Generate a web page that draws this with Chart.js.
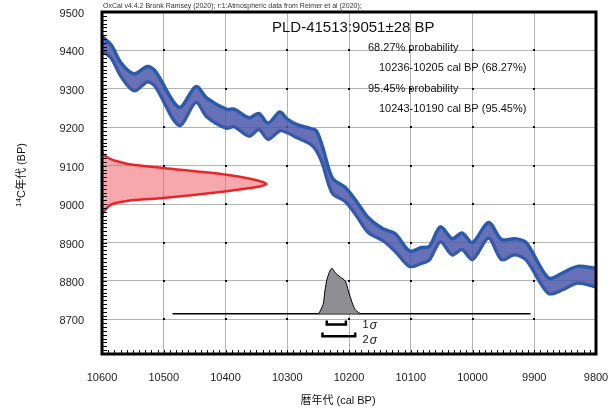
<!DOCTYPE html>
<html><head><meta charset="utf-8">
<script src="https://cdn.jsdelivr.net/npm/chart.js@4.4.0/dist/chart.umd.min.js"></script>
<style>html,body{margin:0;padding:0;background:#fff;overflow:hidden}</style>
</head><body>
<canvas id="c" width="609" height="414" style="width:609px;height:414px;display:block"></canvas>
<script>
// Calibration curve (IntCal20 band): cal BP and upper / lower 14C ages
const calBP    = [10600,10585,10569,10548,10527,10514,10475,10448,10430,10399,10386,10362,10346,10331,10312,10300,10284,10263,10253,10243,10227,10206,10187,10169,10145,10125,10102,10083,10070,10052,10033,10017,10000,9974,9953,9932,9913,9877,9853,9830,9800];
const c14Upper = [9436,9414,9367,9339,9358,9347,9252,9306,9276,9247,9247,9225,9236,9211,9240,9221,9207,9197,9191,9150,9068,9043,9005,8965,8936,8923,8878,8887,8890,8941,8910,8925,8900,8952,8908,8910,8900,8808,8822,8838,8833];
const c14Lower = [9400,9380,9332,9295,9318,9307,9205,9265,9227,9198,9202,9177,9194,9169,9191,9186,9173,9157,9140,9106,9029,9007,8968,8927,8905,8877,8838,8846,8855,8902,8868,8882,8856,8912,8856,8868,8855,8768,8778,8795,8785];

// Measured 14C age probability (drawn along the y axis)
const probCal = [10600,10597,10586,10574,10553,10501,10401,10360,10334,10347,10401,10501,10552,10585,10597,10600];
const probC14 = [9138,9128,9117,9111,9103,9094,9077,9066,9053,9045,9033,9016,9010,8999,8981,8970];

// Calibrated probability distribution
const postCal = [10249,10242,10239,10235,10228,10222,10214,10206,10201,10195,10190,10182];
const postC14 = [8715,8739,8774,8808,8833,8821,8810,8800,8774,8744,8726,8715];
const postBaseline = 8715;
const rangeLine = [10486, 9906];

// Sigma ranges
const sigma1 = [10236, 10205];
const sigma2 = [10243, 10190];
const sigma1Level = 8687, sigma2Level = 8656, bracketTick = 10;

// Axis ticks
const xTicks = [10600,10500,10400,10300,10200,10100,10000,9900,9800];
const yTicks = [8700,8800,8900,9000,9100,9200,9300,9400,9500];

const FONT = "'Liberation Sans', Arial, 'Noto Sans CJK JP', sans-serif";
Chart.defaults.font.family = FONT;

const pts = (xs, ys) => xs.map((v, i) => ({x: v, y: ys[i]}));
const bracket = (r, lvl) => [{x:r[0],y:lvl+bracketTick},{x:r[0],y:lvl},{x:r[1],y:lvl},{x:r[1],y:lvl+bracketTick}];

const deco = {
  id: 'deco',
  beforeDatasetsDraw(chart) {
    const {ctx, scales:{x, y}} = chart;
    ctx.save();
    ctx.fillStyle = '#000';
    xTicks.forEach(xv => yTicks.forEach(yv => {
      const px = Math.round(x.getPixelForValue(xv)), py = Math.round(y.getPixelForValue(yv));
      ctx.fillRect(px - 1, py - 1, 2, 2);
    }));
    ctx.restore();
  },
  afterDraw(chart) {
    const {ctx, chartArea: a, scales:{x, y}} = chart;
    ctx.save();
    // minor ticks
    ctx.strokeStyle = '#000'; ctx.lineWidth = 1;
    ctx.beginPath();
    for (let v = 9800; v <= 10600; v += 10) {
      const px = Math.round(x.getPixelForValue(v)) + 0.5;
      ctx.moveTo(px, a.bottom); ctx.lineTo(px, a.bottom - 4);
    }
    for (let v = 8620; v <= 9500; v += 10) {
      const py = Math.round(y.getPixelForValue(v)) + 0.5;
      ctx.moveTo(a.left, py); ctx.lineTo(a.left + 5, py);
    }
    ctx.stroke();
    // frame
    ctx.lineWidth = 3;
    ctx.strokeRect(a.left, a.top, a.right - a.left, a.bottom - a.top);

    ctx.fillStyle = '#111';
    ctx.textBaseline = 'middle';
    ctx.textAlign = 'left';
    // header
    ctx.font = '7px ' + FONT;
    ctx.fillStyle = '#333';
    ctx.fillText('OxCal v4.4.2 Bronk Ramsey (2020); r:1:Atmospheric data from Reimer et al (2020);', 103, 6);
    ctx.fillStyle = '#111';
    ctx.font = '15px ' + FONT;
    ctx.fillText('PLD-41513:9051\u00B128 BP', 272, 28);
    ctx.font = '11px ' + FONT;
    ctx.fillText('68.27% probability', 368, 48);
    ctx.fillText('10236-10205 cal BP (68.27%)', 379, 68);
    ctx.fillText('95.45% probability', 368, 89);
    ctx.fillText('10243-10190 cal BP (95.45%)', 379, 109);

    // sigma labels
    const sx = x.getPixelForValue(10178);
    const s1y = y.getPixelForValue(sigma1Level) + 1, s2y = y.getPixelForValue(sigma2Level) + 4;
    ctx.font = '11px ' + FONT;
    ctx.fillText('1', sx, s1y); let w = ctx.measureText('1 ').width;
    ctx.font = 'italic 12px ' + FONT; ctx.fillText('\u03C3', sx + w - 2, s1y);
    ctx.font = '11px ' + FONT;
    ctx.fillText('2', sx, s2y);
    ctx.font = 'italic 12px ' + FONT; ctx.fillText('\u03C3', sx + w - 2, s2y);

    // x axis title
    ctx.font = '11px ' + FONT;
    ctx.textAlign = 'center';
    ctx.fillText('暦年代 (cal BP)', 338, 401);

    // y axis title rotated
    ctx.translate(22, 175);
    ctx.rotate(-Math.PI / 2);
    ctx.textAlign = 'left';
    ctx.font = '8px ' + FONT;
    const supW = ctx.measureText('14').width;
    ctx.font = '11px ' + FONT;
    const mainW = ctx.measureText('C年代 (BP)').width;
    const start = -(supW + mainW) / 2;
    ctx.font = '8px ' + FONT;
    ctx.fillText('14', start, -3);
    ctx.font = '11px ' + FONT;
    ctx.fillText('C年代 (BP)', start + supW, 0);
    ctx.restore();
  }
};

new Chart(document.getElementById('c'), {
  type: 'line',
  data: {
    datasets: [
      { label: 'prob', data: pts(probCal, probC14), borderColor: '#e8262a', borderWidth: 2.5,
        backgroundColor: 'rgba(239,81,89,0.5)', fill: 'shape', tension: 0.3, pointRadius: 0 },
      { label: 'upper', data: pts(calBP, c14Upper), borderColor: '#2a5aaa', borderWidth: 3.5,
        backgroundColor: 'rgba(76,88,170,0.85)', fill: '+1', tension: 0.3, pointRadius: 0 },
      { label: 'lower', data: pts(calBP, c14Lower), borderColor: '#2a5aaa', borderWidth: 3.5,
        fill: false, tension: 0.3, pointRadius: 0 },
      { label: 's1', data: bracket(sigma1, sigma1Level), borderColor: '#000', borderWidth: 2.5, fill: false, pointRadius: 0, tension: 0 },
      { label: 's2', data: bracket(sigma2, sigma2Level), borderColor: '#000', borderWidth: 2.5, fill: false, pointRadius: 0, tension: 0 },
      { label: 'post', data: pts(postCal, postC14), borderColor: '#000', borderWidth: 1,
        backgroundColor: '#8f8f91', fill: {value: postBaseline}, tension: 0.3, pointRadius: 0 },
      { label: 'range', data: [{x: rangeLine[0], y: postBaseline}, {x: rangeLine[1], y: postBaseline}],
        borderColor: '#000', borderWidth: 1.5, fill: false, pointRadius: 0 }
    ]
  },
  options: {
    responsive: false, animation: false, devicePixelRatio: 1,
    layout: { padding: { top: 12, right: 13, left: 0, bottom: 0 } },
    plugins: { legend: { display: false }, tooltip: { enabled: false } },
    scales: {
      x: {
        type: 'linear', min: 9800, max: 10600, reverse: true,
        afterFit: s => { s.height = 60; s.paddingLeft = 0; s.paddingRight = 0; },
        afterBuildTicks: s => { s.ticks = xTicks.map(v => ({value: v})); },
        grid: { color: '#b4b4b4', lineWidth: 1, drawTicks: false },
        border: { display: false },
        ticks: { padding: 17, color: '#222', font: { size: 11 }, maxRotation: 0, callback: v => String(v) }
      },
      y: {
        type: 'linear', min: 8610, max: 9500,
        afterFit: s => { s.width = 102; s.paddingTop = 0; s.paddingBottom = 0; },
        afterBuildTicks: s => { s.ticks = yTicks.map(v => ({value: v})); },
        grid: { color: '#b4b4b4', lineWidth: 1, drawTicks: false },
        border: { display: false },
        ticks: { padding: 18, labelOffset: 2, color: '#222', font: { size: 11 }, callback: v => String(v) }
      }
    }
  },
  plugins: [deco]
});
</script>
</body></html>
